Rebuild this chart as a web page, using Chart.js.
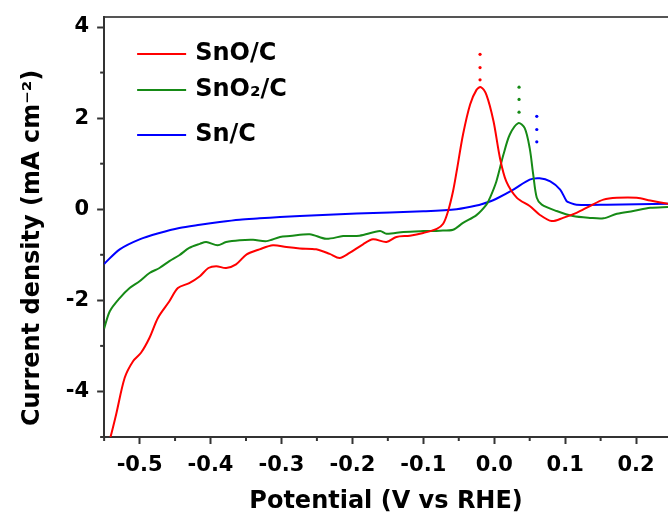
<!DOCTYPE html>
<html>
<head>
<meta charset="utf-8">
<script src="https://cdn.jsdelivr.net/npm/chart.js@4/dist/chart.umd.min.js"></script>
<style>
  body { margin: 0; background: #fff; }
  #wrap { width: 668px; height: 520px; }
</style>
</head>
<body>
<div id="wrap"><canvas id="cv"></canvas></div>
<script>
// series (potential V vs RHE, current density mA/cm2)
let snoX = [-0.545, -0.541, -0.533, -0.521, -0.509, -0.498, -0.486, -0.474, -0.458, -0.446, -0.430, -0.415, -0.403, -0.392, -0.378, -0.364, -0.349, -0.331, -0.312, -0.293, -0.274, -0.251, -0.232, -0.218, -0.204, -0.185, -0.171, -0.152, -0.138, -0.119, -0.100, -0.081, -0.072, -0.065, -0.058, -0.053, -0.044, -0.034, -0.025, -0.019, -0.011, -0.001, 0.008, 0.017, 0.032, 0.050, 0.064, 0.081, 0.097, 0.116, 0.135, 0.154, 0.173, 0.201, 0.220, 0.245];
let snoY = [-5.2, -5.0, -4.50, -3.70, -3.33, -3.15, -2.82, -2.38, -2.02, -1.73, -1.62, -1.47, -1.29, -1.25, -1.29, -1.21, -0.99, -0.88, -0.79, -0.83, -0.86, -0.88, -0.98, -1.07, -0.96, -0.77, -0.66, -0.72, -0.61, -0.58, -0.52, -0.43, -0.32, -0.04, 0.40, 0.83, 1.64, 2.30, 2.62, 2.68, 2.51, 1.93, 1.13, 0.61, 0.25, 0.07, -0.12, -0.26, -0.19, -0.08, 0.07, 0.21, 0.25, 0.25, 0.19, 0.12];

let sno2X = [-0.550, -0.542, -0.528, -0.514, -0.500, -0.486, -0.472, -0.458, -0.444, -0.430, -0.415, -0.406, -0.390, -0.378, -0.359, -0.340, -0.321, -0.302, -0.288, -0.260, -0.237, -0.213, -0.190, -0.161, -0.152, -0.128, -0.100, -0.077, -0.058, -0.044, -0.025, -0.011, -0.006, 0.003, 0.013, 0.022, 0.034, 0.043, 0.050, 0.055, 0.060, 0.067, 0.088, 0.111, 0.135, 0.154, 0.173, 0.196, 0.220, 0.245];
let sno2Y = [-2.62, -2.24, -1.95, -1.73, -1.58, -1.40, -1.29, -1.14, -1.01, -0.85, -0.76, -0.72, -0.79, -0.72, -0.68, -0.67, -0.70, -0.61, -0.59, -0.55, -0.65, -0.59, -0.58, -0.48, -0.54, -0.50, -0.48, -0.47, -0.45, -0.30, -0.13, 0.10, 0.25, 0.61, 1.20, 1.64, 1.89, 1.78, 1.34, 0.76, 0.25, 0.10, -0.04, -0.15, -0.19, -0.20, -0.10, -0.04, 0.03, 0.05];

let snX = [-0.550, -0.528, -0.500, -0.472, -0.444, -0.415, -0.387, -0.359, -0.331, -0.302, -0.274, -0.194, -0.100, -0.053, -0.025, -0.006, 0.003, 0.027, 0.050, 0.064, 0.079, 0.093, 0.102, 0.107, 0.116, 0.159, 0.245];
let snY = [-1.20, -0.88, -0.66, -0.52, -0.41, -0.34, -0.28, -0.23, -0.20, -0.17, -0.15, -0.095, -0.044, 0.0, 0.08, 0.17, 0.23, 0.43, 0.65, 0.68, 0.61, 0.43, 0.18, 0.14, 0.10, 0.10, 0.12];

// dotted markers above each oxidation peak
let peakX = [-0.020, 0.035, 0.060];
let peakDotsY = [[3.40, 3.11, 2.84], [2.68, 2.41, 2.13], [2.04, 1.75, 1.48]];

let seriesNames = ['SnO/C', 'SnO₂/C', 'Sn/C'];
let seriesColors = ['#ff0000', '#168a16', '#0000ff'];

let xMinor = [-0.55, -0.45, -0.35, -0.25, -0.15, -0.05, 0.05, 0.15];
let yMinor = [-5, -3, -1, 1, 3];

const FONT = 'DejaVu Sans';

function pts(xs, ys) {
  return xs.map((x, i) => ({ x: x, y: ys[i] }));
}

let curves = [[snoX, snoY], [sno2X, sno2Y], [snX, snY]];
let datasets = curves.map((c, i) => ({
  label: seriesNames[i],
  data: pts(c[0], c[1]),
  borderColor: seriesColors[i],
  backgroundColor: seriesColors[i],
  borderWidth: 2,
  pointRadius: 0,
  tension: 0.3,
  showLine: true,
  inLegend: true
}));
peakX.forEach((px, i) => {
  datasets.push({
    label: seriesNames[i] + ' peak',
    data: peakDotsY[i].map(v => ({ x: px, y: v })),
    showLine: false,
    pointRadius: 1.6,
    pointBorderWidth: 0,
    pointBackgroundColor: seriesColors[i],
    borderColor: seriesColors[i]
  });
});

// minor ticks, drawn through the scales
const minorTicks = {
  id: 'minorTicks',
  afterDraw(chart) {
    const { ctx, chartArea, scales } = chart;
    ctx.save();
    ctx.strokeStyle = '#333';
    ctx.lineWidth = 2;
    xMinor.forEach(v => {
      const p = scales.x.getPixelForValue(v);
      ctx.beginPath(); ctx.moveTo(p, chartArea.bottom); ctx.lineTo(p, chartArea.bottom + 4); ctx.stroke();
    });
    yMinor.forEach(v => {
      const p = scales.y.getPixelForValue(v);
      ctx.beginPath(); ctx.moveTo(chartArea.left, p); ctx.lineTo(chartArea.left - 4, p); ctx.stroke();
    });
    ctx.restore();
  }
};

// legend sits inside the plot, top left
const innerLegend = {
  id: 'innerLegend',
  afterDraw(chart) {
    const { ctx, chartArea } = chart;
    const rows = [37, 73, 118];
    ctx.save();
    ctx.font = 'bold 24px "' + FONT + '"';
    ctx.textBaseline = 'middle';
    chart.data.datasets.filter(d => d.inLegend).forEach((d, i) => {
      const y = chartArea.top + rows[i];
      const x = chartArea.left + 33;
      ctx.strokeStyle = d.borderColor;
      ctx.lineWidth = 2;
      ctx.beginPath(); ctx.moveTo(x, y); ctx.lineTo(x + 49, y); ctx.stroke();
      ctx.fillStyle = '#000';
      ctx.fillText(d.label, x + 58, y);
    });
    ctx.restore();
  }
};

const tickFont = { family: FONT, weight: 'bold', size: 21 };
const titleFont = { family: FONT, weight: 'bold', size: 24 };

new Chart(document.getElementById('cv'), {
  type: 'scatter',
  data: { datasets: datasets },
  options: {
    responsive: true,
    maintainAspectRatio: false,
    animation: false,
    layout: { autoPadding: false, padding: { top: 17, right: 0, left: 18, bottom: 4 } },
    plugins: { legend: { display: false }, tooltip: { enabled: false } },
    scales: {
      x: {
        type: 'linear',
        min: -0.55,
        max: 0.245,
        border: { color: '#333', width: 2 },
        grid: { drawOnChartArea: false, tickLength: 7, tickWidth: 2, tickColor: '#333' },
        ticks: {
          stepSize: 0.1,
          includeBounds: false,
          font: tickFont,
          color: '#000',
          padding: 9,
          maxRotation: 0,
          callback: v => v.toFixed(1)
        },
        title: { display: true, text: 'Potential (V vs RHE)', font: titleFont, color: '#000', padding: { top: 0, bottom: 0 } }
      },
      xTop: {
        type: 'linear',
        position: 'top',
        min: -0.55,
        max: 0.245,
        border: { color: '#555', width: 2 },
        grid: { drawOnChartArea: false, drawTicks: false },
        ticks: { display: false }
      },
      y: {
        type: 'linear',
        min: -5,
        max: 4.22,
        // top label sits below the frame, so it needs no extra room above
        afterFit: s => { s.paddingTop = 0; },
        border: { color: '#333', width: 2 },
        grid: { drawOnChartArea: false, tickLength: 7, tickWidth: 2, tickColor: '#333' },
        ticks: {
          stepSize: 2,
          includeBounds: false,
          font: tickFont,
          color: '#000',
          padding: 8
        },
        // trailing spaces nudge the rotated title down, as in the original figure
        title: { display: true, text: 'Current density (mA cm⁻²)     ', font: titleFont, color: '#000', padding: { top: 0, bottom: 11 } }
      }
    }
  },
  plugins: [minorTicks, innerLegend]
});
</script>
</body>
</html>
